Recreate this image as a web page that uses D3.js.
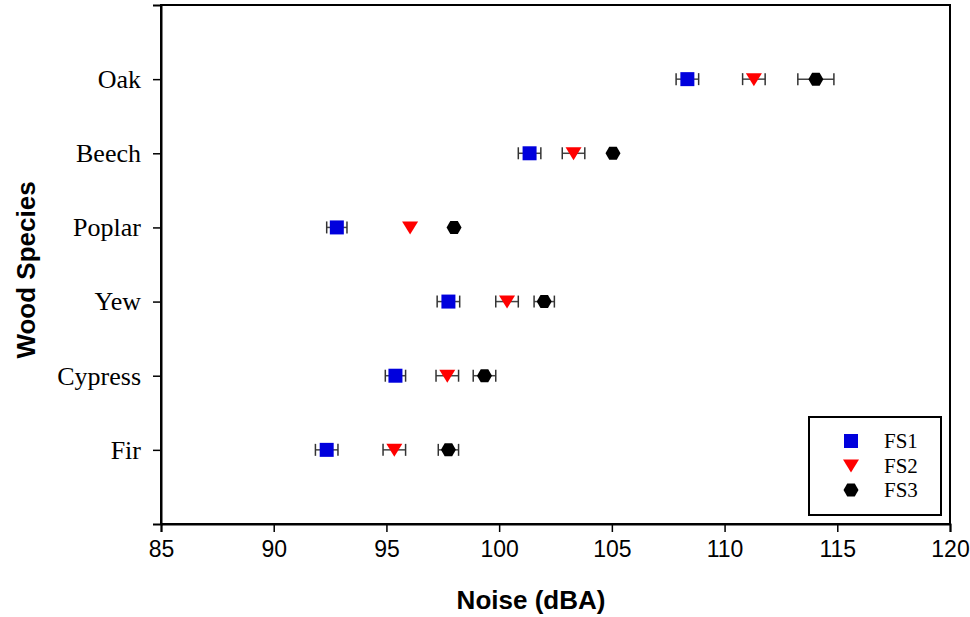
<!DOCTYPE html>
<html><head><meta charset="utf-8">
<script src="https://cdn.jsdelivr.net/npm/d3@7"></script>
<style>body{margin:0;background:#fff}</style>
</head><body>
<svg id="c" width="970" height="617"></svg>
<script>
const species = ["Fir","Cypress","Yew","Poplar","Beech","Oak"];
const fs1 = [92.35, 95.4, 97.75, 92.8, 101.35, 108.35];
const fs1Err = [0.5, 0.45, 0.5, 0.45, 0.5, 0.5];
const fs2 = [95.35, 97.7, 100.35, 96.05, 103.3, 111.3];
const fs2Err = [0.5, 0.5, 0.5, 0, 0.5, 0.5];
const fs3 = [97.75, 99.35, 102.0, 98.0, 105.05, 114.05];
const fs3Err = [0.45, 0.5, 0.45, 0, 0, 0.8];
const xTicks = [85,90,95,100,105,110,115,120];
const seriesNames = ["FS1","FS2","FS3"];
const colors = ["#0000dd","#ff0000","#000000"];

const SERIF = "'Liberation Serif', 'Times New Roman', serif";
const SANS = "'Liberation Sans', Arial, sans-serif";

const svg = d3.select("#c");
const x = d3.scaleLinear().domain([85,120]).range([161,950]);
const y = d3.scaleLinear().domain([0,7]).range([524,5]);

svg.append("rect").attr("x",161).attr("y",5).attr("width",789).attr("height",519)
  .attr("fill","none").attr("stroke","#000").attr("stroke-width",2);

const xAxis = svg.append("g").attr("transform","translate(0,524)")
  .call(d3.axisBottom(x).tickValues(xTicks).tickSize(8).tickPadding(9).tickFormat(d3.format("d")));
xAxis.select(".domain").attr("stroke-width",2);
xAxis.selectAll(".tick line").attr("stroke-width",1.5);
xAxis.selectAll("text").style("font-family",SANS).style("font-size","23px").attr("fill","#000");

const yAxis = svg.append("g").attr("transform","translate(161,0)")
  .call(d3.axisLeft(y).tickValues(species.map((d,i)=>i+1)).tickSize(8).tickPadding(12).tickFormat(d=>species[d-1]));
yAxis.select(".domain").attr("stroke-width",2);
yAxis.selectAll(".tick line").attr("stroke-width",1.5);
yAxis.selectAll("text").style("font-family",SERIF).style("font-size","26px").attr("fill","#000");

svg.append("text").attr("x",531).attr("y",609).attr("text-anchor","middle")
  .style("font-family",SANS).style("font-weight","bold").style("font-size","26px")
  .text("Noise (dBA)");
svg.append("text").attr("transform","translate(35,270) rotate(-90)").attr("text-anchor","middle")
  .style("font-family",SANS).style("font-weight","bold").style("font-size","26px")
  .text("Wood Species");

const series = [
  {vals:fs1, err:fs1Err, sym:d3.symbol().type(d3.symbolSquare).size(196)()},
  {vals:fs2, err:fs2Err, sym:"M-8,-6L8,-6L0,7Z"},
  {vals:fs3, err:fs3Err, sym:d3.range(6).map(i=>{const a=Math.PI/3*i; return [7.5*Math.cos(a),7.5*Math.sin(a)];}).map((p,i)=>(i?"L":"M")+p[0].toFixed(2)+","+p[1].toFixed(2)).join("")+"Z"}
];

series.forEach((s,si)=>{
  const g = svg.append("g");
  s.vals.forEach((v,i)=>{
    const e = s.err[i];
    const cy = y(i+1);
    if (e>0){
      g.append("line").attr("x1",x(v-e)).attr("x2",x(v+e)).attr("y1",cy).attr("y2",cy).attr("stroke","#444").attr("stroke-width",1.5);
      [v-e,v+e].forEach(t=>g.append("line").attr("x1",x(t)).attr("x2",x(t)).attr("y1",cy-6).attr("y2",cy+6).attr("stroke","#333").attr("stroke-width",1.5));
    }
    g.append("path").attr("d",s.sym).attr("transform",`translate(${x(v)},${cy})`).attr("fill",colors[si]);
  });
});

const lg = svg.append("g");
lg.append("rect").attr("x",809).attr("y",417).attr("width",132).attr("height",98).attr("fill","#fff").attr("stroke","#000").attr("stroke-width",2);
seriesNames.forEach((n,i)=>{
  const cy = 441 + i*24.5;
  lg.append("path").attr("d",series[i].sym).attr("transform",`translate(851,${cy})`).attr("fill",colors[i]);
  lg.append("text").attr("x",884).attr("y",cy+7).style("font-family",SERIF).style("font-size","21px").text(n);
});
</script>
</body></html>
